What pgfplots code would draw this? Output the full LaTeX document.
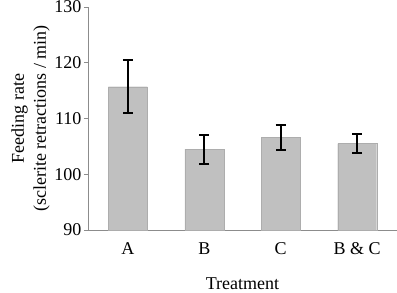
\documentclass[border=0pt]{standalone}
\usepackage{pgfplots}
\pgfplotsset{compat=1.18}
\usepackage{fontspec}
\setmainfont{Liberation Serif}
\definecolor{barfill}{RGB}{192,192,192}
\definecolor{axgray}{RGB}{140,140,140}
\begin{document}
\begin{tikzpicture}
\path[use as bounding box] (-88bp,-63bp) rectangle (309bp,230bp);
\begin{axis}[
  at={(0,0)}, anchor=south west,
  scale only axis, width=309bp, height=223bp,
  ymin=90, ymax=130, ytick={90,100,110,120,130},
  xmin=-0.52, xmax=3.52,
  xtick={0,1,2,3}, xticklabels={A,B,C,B \& C},
  axis x line*=bottom, axis y line*=left,
  axis line style={axgray, line width=0.8pt},
  y axis line style={-}, x axis line style={-},
  ytick style={axgray, line width=0.8pt},
  major tick length=4bp,
  tick align=outside,
  xtick style={draw=none},
  xticklabel style={yshift=-5bp},
  yticklabel style={xshift=1bp},
  ticklabel style={font=\fontsize{18bp}{22bp}\selectfont},
  /pgf/number format/assume math mode=true,
  xlabel={Treatment},
  xlabel style={yshift=-16bp, font=\fontsize{18bp}{22bp}\selectfont},
  ylabel style={align=center, font=\fontsize{18bp}{22bp}\selectfont, yshift=-2bp},
  ylabel={Feeding rate\\(sclerite retractions / min)},
  ybar, bar width=39bp,
  clip=false,
]
\addplot[fill=barfill, draw=barfill!90!black, line width=0.3pt,
  error bars/.cd, y dir=both, y explicit,
  error bar style={black, line width=1.8pt},
  error mark options={rotate=90, mark size=5bp, line width=1.8pt, black}]
  coordinates {
  (0,115.7) +- (0,4.75)
  (1,104.5) +- (0,2.6)
  (2,106.6) +- (0,2.25)
  (3,105.5) +- (0,1.65)
};
\end{axis}
\end{tikzpicture}
\end{document}
